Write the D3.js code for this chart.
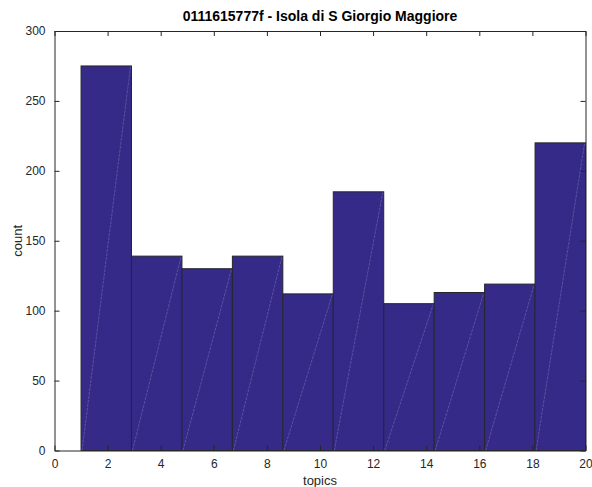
<!DOCTYPE html>
<html>
<head>
<meta charset="utf-8">
<script src="https://cdn.jsdelivr.net/npm/d3@7"></script>
<style>
  body { margin: 0; background: #fff; }
  text { font-family: "Liberation Sans", Arial, sans-serif; }
</style>
</head>
<body>
<div id="chart"></div>
<script>
const binEdges = [1, 2.9, 4.8, 6.7, 8.6, 10.5, 12.4, 14.3, 16.2, 18.1, 20];
const counts = [275, 139, 130, 139, 112, 185, 105, 113, 119, 220];
const xTicks = [0, 2, 4, 6, 8, 10, 12, 14, 16, 18, 20];
const yTicks = [0, 50, 100, 150, 200, 250, 300];

const width = 592;
const height = 487;
const margin = { top: 31, right: 6.5, bottom: 36.5, left: 54.5 };

const svg = d3.select('#chart')
  .append('svg')
  .attr('width', width)
  .attr('height', height);

const x = d3.scaleLinear()
  .domain([0, 20])
  .range([margin.left, width - margin.right]);

const y = d3.scaleLinear()
  .domain([0, 300])
  .range([height - margin.bottom, margin.top]);

const bins = counts.map((c, i) => ({ x0: binEdges[i], x1: binEdges[i + 1], count: c }));

// bars
svg.append('g')
  .selectAll('rect')
  .data(bins)
  .join('rect')
  .attr('x', d => x(d.x0))
  .attr('y', d => y(d.count))
  .attr('width', d => x(d.x1) - x(d.x0))
  .attr('height', d => y(0) - y(d.count))
  .attr('fill', '#352a87')
  .attr('stroke', '#26262e')
  .attr('stroke-width', 1);

// faint diagonal seams inside each bar
svg.append('g')
  .selectAll('line')
  .data(bins)
  .join('line')
  .attr('x1', d => x(d.x0) + 1)
  .attr('y1', y(0))
  .attr('x2', d => x(d.x1) - 1)
  .attr('y2', d => y(d.count) + 1)
  .attr('stroke', '#7f79b8')
  .attr('stroke-width', 0.5)
  .attr('stroke-dasharray', '3,1');

// axes box with inward ticks
const axisColor = '#262626';
svg.append('g')
  .attr('transform', `translate(0,${y(0)})`)
  .call(d3.axisBottom(x).tickValues(xTicks).tickSizeInner(-5).tickSizeOuter(0).tickPadding(9))
  .call(g => g.selectAll('text').attr('font-size', 12).attr('fill', axisColor))
  .call(g => g.selectAll('line, path').attr('stroke', axisColor));

svg.append('g')
  .attr('transform', `translate(0,${y(300)})`)
  .call(d3.axisTop(x).tickValues(xTicks).tickSizeInner(-5).tickSizeOuter(0).tickFormat(''))
  .call(g => g.selectAll('line, path').attr('stroke', axisColor));

svg.append('g')
  .attr('transform', `translate(${x(0)},0)`)
  .call(d3.axisLeft(y).tickValues(yTicks).tickSizeInner(-5).tickSizeOuter(0).tickPadding(9))
  .call(g => g.selectAll('text').attr('font-size', 12).attr('fill', axisColor))
  .call(g => g.selectAll('line, path').attr('stroke', axisColor));

svg.append('g')
  .attr('transform', `translate(${x(20)},0)`)
  .call(d3.axisRight(y).tickValues(yTicks).tickSizeInner(-5).tickSizeOuter(0).tickFormat(''))
  .call(g => g.selectAll('line, path').attr('stroke', axisColor));

// labels
svg.append('text')
  .attr('x', (x(0) + x(20)) / 2)
  .attr('y', 21)
  .attr('text-anchor', 'middle')
  .attr('font-size', 14)
  .attr('font-weight', 'bold')
  .attr('fill', '#000')
  .text('0111615777f - Isola di S Giorgio Maggiore');

svg.append('text')
  .attr('x', (x(0) + x(20)) / 2)
  .attr('y', 485)
  .attr('text-anchor', 'middle')
  .attr('font-size', 13)
  .attr('fill', axisColor)
  .text('topics');

svg.append('text')
  .attr('transform', `translate(22,${(y(0) + y(300)) / 2}) rotate(-90)`)
  .attr('text-anchor', 'middle')
  .attr('font-size', 13)
  .attr('fill', axisColor)
  .text('count');
</script>
</body>
</html>
